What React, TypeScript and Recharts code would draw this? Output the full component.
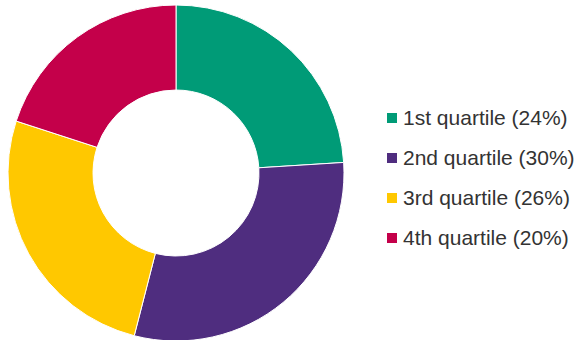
import { PieChart, Pie, Cell, Legend } from 'recharts'

const QUARTILES = ['1st quartile', '2nd quartile', '3rd quartile', '4th quartile']
const SHARES = [24, 30, 26, 20]
const COLORS = ['#009B77', '#4F2D7F', '#FFC800', '#C4004A']

const data = QUARTILES.map((name, i) => ({ name, value: SHARES[i] }))

function QuartileLegend() {
  return (
    <div>
      {data.map((d, i) => (
        <div
          key={d.name}
          style={{ display: 'flex', alignItems: 'center', height: 40 }}
        >
          <span
            style={{ width: 10, height: 10, background: COLORS[i], marginRight: 6, display: 'inline-block' }}
          />
          <span style={{ fontSize: 21, color: '#333', fontFamily: '"Liberation Sans", Arial, sans-serif' }}>
            {d.name} ({d.value}%)
          </span>
        </div>
      ))}
    </div>
  )
}

export default function App() {
  return (
    <div style={{ position: 'absolute', left: 0, top: 0 }}>
      <PieChart width={577} height={340} margin={{ top: 0, right: 0, bottom: 0, left: 0 }}>
        <Pie
          data={data}
          dataKey="value"
          nameKey="name"
          cx={176}
          cy={173}
          outerRadius={168}
          innerRadius={83}
          startAngle={90}
          endAngle={-270}
          stroke="#fff"
          strokeWidth={1}
          isAnimationActive={false}
        >
          {data.map((d, i) => (
            <Cell key={d.name} fill={COLORS[i]} />
          ))}
        </Pie>
        <Legend
          content={() => <QuartileLegend />}
          wrapperStyle={{ left: 387, top: 98, width: 190 }}
        />
      </PieChart>
    </div>
  )
}
